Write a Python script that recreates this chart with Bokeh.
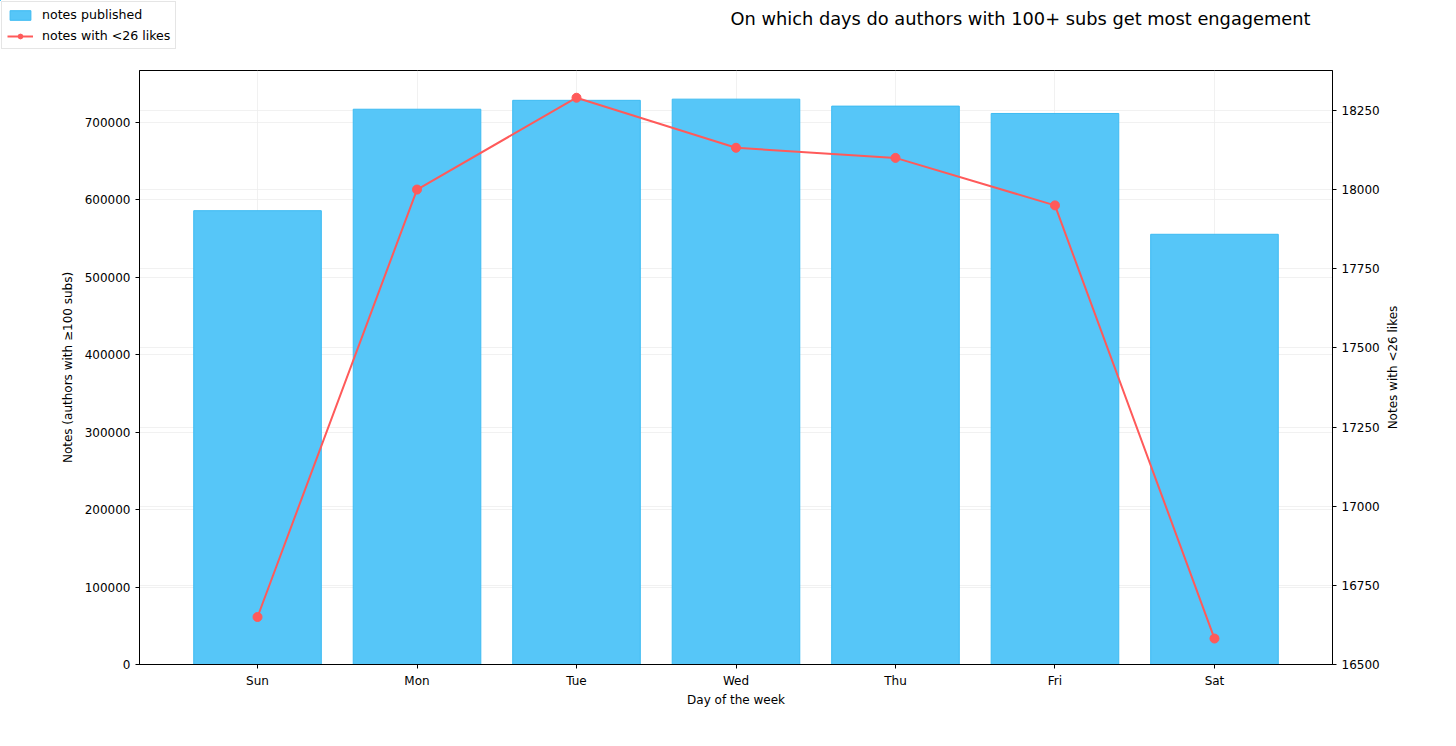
import math
from bokeh.plotting import figure
from bokeh.layouts import column, row
from bokeh.models import (Range1d, LinearAxis, FixedTicker, BasicTickFormatter, Grid,
                          Legend, LegendItem, Label)
from bokeh.embed import file_html
from bokeh.resources import INLINE

days = ["Sun", "Mon", "Tue", "Wed", "Thu", "Fri", "Sat"]
notes_published = [586000, 717000, 728500, 730000, 721000, 711500, 555500]
notes_low_likes = [16650, 18000, 18290, 18132, 18100, 17950, 16582]

FONT = "DejaVu Sans"
BAR_FILL = "#56C6F8"
BAR_EDGE = "#3DBBF2"
LINE_COLOR = "#FF5A5A"
W = 1440
HEADER_H = 66
MAIN_H = 730 - HEADER_H
MAIN_W = 1384
SIDE_W = W - MAIN_W
HX0 = 20  # header x-range start (keeps legend proxies off-canvas)


def bare(fig):
    fig.frame_align = False
    fig.outline_line_color = None
    fig.xgrid.visible = False
    fig.ygrid.visible = False


xs = list(range(len(days)))

# ---------- header (title + legend) ----------
hdr = figure(width=W, height=HEADER_H, output_backend="svg", toolbar_location=None,
             x_range=Range1d(HX0, W + HX0), y_range=Range1d(0, HEADER_H),
             x_axis_type=None, y_axis_type=None,
             min_border_left=0, min_border_right=0, min_border_top=0, min_border_bottom=0)
bare(hdr)

# legend proxies: same series, but outside the header's visible ranges
lb = hdr.vbar(x=xs, top=notes_published, bottom=notes_published, width=0.8,
              fill_color=BAR_FILL, line_color=BAR_EDGE, line_width=1)
ll = hdr.line(xs, notes_low_likes, line_color=LINE_COLOR, line_width=2)
lp = hdr.scatter(xs, notes_low_likes, size=9, fill_color=LINE_COLOR, line_color=LINE_COLOR)

legend = Legend(items=[LegendItem(label="notes published", renderers=[lb]),
                       LegendItem(label="notes with <26 likes", renderers=[ll, lp])],
                location="top_left", orientation="vertical",
                label_text_font=FONT, label_text_font_size="12.6px", label_text_color="black",
                glyph_width=26, glyph_height=12, label_height=14, label_standoff=9,
                spacing=6, padding=5, margin=1,
                border_line_color="#cccccc", border_line_width=1,
                background_fill_color="white", background_fill_alpha=1)
hdr.add_layout(legend, "center")

title = Label(x=1310 + HX0, y=HEADER_H - 18,
              text="On which days do authors with 100+ subs get most engagement",
              text_font=FONT, text_font_size="17.8px", text_align="right",
              text_baseline="middle", text_color="black")
hdr.add_layout(title)

# ---------- main chart ----------
p = figure(width=MAIN_W, height=MAIN_H, output_backend="svg", toolbar_location=None,
           x_range=Range1d(-0.74, 6.74), y_range=Range1d(0, 767000),
           min_border_left=139, min_border_right=MAIN_W - 1332, min_border_top=4,
           min_border_bottom=66)
p.frame_align = False
p.extra_y_ranges = {"right": Range1d(16500, 18376)}

bars = p.vbar(x=xs, top=notes_published, width=0.8, fill_color=BAR_FILL,
              line_color=BAR_EDGE, line_width=1)
line = p.line(xs, notes_low_likes, y_range_name="right", line_color=LINE_COLOR, line_width=2)
pts = p.scatter(xs, notes_low_likes, y_range_name="right", size=9, fill_color=LINE_COLOR,
                line_color=LINE_COLOR)

p.outline_line_color = "black"
p.outline_line_width = 1
p.outline_line_alpha = 1

xa = p.xaxis[0]
xa.ticker = FixedTicker(ticks=xs)
xa.major_label_overrides = {i: d for i, d in enumerate(days)}
xa.axis_label = "Day of the week"
xa.axis_label_standoff = 2

ya = p.yaxis[0]
ya.ticker = FixedTicker(ticks=[0, 100000, 200000, 300000, 400000, 500000, 600000, 700000])
ya.formatter = BasicTickFormatter(use_scientific=False)
ya.axis_label = "Notes (authors with \u2265100 subs)"
ya.axis_label_standoff = 7

right_ticker = FixedTicker(ticks=[16500, 16750, 17000, 17250, 17500, 17750, 18000, 18250])
ra = LinearAxis(y_range_name="right", ticker=right_ticker,
                formatter=BasicTickFormatter(use_scientific=False))
p.add_layout(ra, "right")

for ax in [xa, ya, ra]:
    ax.minor_tick_line_color = None
    ax.major_tick_in = 0
    ax.major_tick_out = 4
    ax.major_label_text_font = FONT
    ax.major_label_text_font_size = "12px"
    ax.major_label_text_color = "black"
    ax.axis_label_text_font = FONT
    ax.axis_label_text_font_size = "12px"
    ax.axis_label_text_font_style = "normal"
    ax.axis_label_text_color = "black"
    ax.axis_line_color = "black"
    ax.major_tick_line_color = "black"

for g in [p.xgrid[0], p.ygrid[0]]:
    g.grid_line_color = "#eeeeee"
    g.grid_line_alpha = 0.8
p.add_layout(Grid(dimension=1, ticker=right_ticker, y_range_name="right",
                  grid_line_color="#eeeeee", grid_line_alpha=0.8))

# ---------- right-axis title (reads bottom to top, centred on the plot frame) ----------
side = figure(width=SIDE_W, height=MAIN_H, output_backend="svg", toolbar_location=None,
              x_range=Range1d(0, SIDE_W), y_range=Range1d(0, MAIN_H),
              x_axis_type=None, y_axis_type=None,
              min_border_left=0, min_border_right=0, min_border_top=0, min_border_bottom=0)
bare(side)
frame_mid = MAIN_H - (4 + (MAIN_H - 4 - 66) / 2)
side.add_layout(Label(x=1392 - MAIN_W, y=frame_mid, text="Notes with <26 likes",
                      angle=math.pi / 2, text_align="center", text_baseline="middle",
                      text_font=FONT, text_font_size="12px", text_color="black"))

layout = column(hdr, row(p, side, spacing=0), spacing=0)
open("out.html", "w").write(file_html(layout, INLINE))
